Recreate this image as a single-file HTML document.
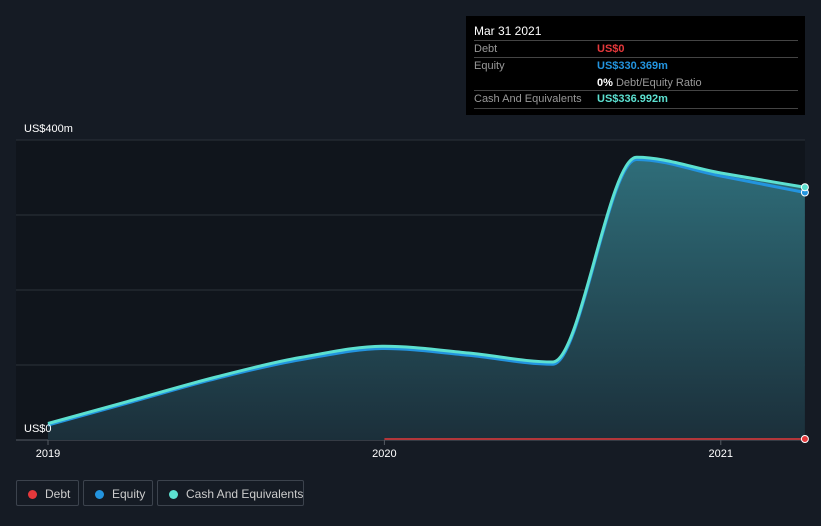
<!DOCTYPE html>
<html><head><meta charset="utf-8"><style>
body{margin:0;background:#151b24;font-family:"Liberation Sans",sans-serif;}
#wrap{position:relative;width:821px;height:526px;overflow:hidden;}
.tt{position:absolute;left:466px;top:16px;width:339px;height:99px;background:#000;color:#ccc;font-size:11px;}
.row{position:absolute;left:8px;width:324px;border-top:1px solid #444;height:17px;line-height:17px;}
.leg{position:absolute;top:480px;height:26px;border:1px solid #3c434d;border-radius:2px;color:#ccc;font-size:12px;line-height:26px;box-sizing:border-box;white-space:nowrap;}
.dot{display:inline-block;width:9px;height:9px;border-radius:50%;margin:0 8px 0 11px;vertical-align:-1px;}
</style></head><body>
<div id="wrap">
<svg id="svg" width="821" height="526" style="position:absolute;left:0;top:0">
<defs><linearGradient id="g" x1="0" y1="0" x2="0" y2="1"><stop offset="0" stop-color="#2f6e7a"/><stop offset="1" stop-color="#1b2f3a"/></linearGradient></defs>
<rect x="16" y="140" width="789" height="300" fill="#10151c"/>
<g id="grid"></g><g id="marks"></g><g id="axes"></g>
</svg>
<div class="tt">
<div style="position:absolute;left:8px;top:8px;color:#fff;font-size:12px">Mar 31 2021</div>
<div class="row" style="top:24px"><span style="color:#999">Debt</span><span style="position:absolute;left:123px;color:#e5383b;font-weight:bold">US$0</span></div>
<div class="row" style="top:41px;height:33px"><span style="color:#999">Equity</span><span style="position:absolute;left:123px;color:#2394df;font-weight:bold">US$330.369m</span><span style="position:absolute;left:123px;top:17px;color:#999"><b style="color:#fff">0%</b> Debt/Equity Ratio</span></div>
<div class="row" style="top:74px;border-bottom:1px solid #444"><span style="color:#999">Cash And Equivalents</span><span style="position:absolute;left:123px;color:#5ce0d0;font-weight:bold">US$336.992m</span></div>
</div>
<div class="leg" style="left:16px;width:63px"><span class="dot" style="background:#e5383b"></span>Debt</div>
<div class="leg" style="left:83px;width:70px"><span class="dot" style="background:#2394df"></span>Equity</div>
<div class="leg" style="left:157px;width:147px"><span class="dot" style="background:#5ce0d0"></span>Cash And Equivalents</div>
</div>
<script>
const dates=[2019,2019.25,2019.5,2019.75,2020,2020.25,2020.5,2020.75,2021,2021.25];
const cash=[22,53,84,110,125,116,104,377,356,337];
const equity=[20,51,82,107,122,113,101,374,352,330];
const debtDates=[2020,2021.25];
const debt=[0,0];
const yTicks=[0,100,200,300,400];
const xTicks=[2019,2020,2021];
const X=t=>48+(t-2019)*336.4;
const Y=v=>440-v*0.75;
const NS="http://www.w3.org/2000/svg";
function mk(tag,attrs,parent){const e=document.createElementNS(NS,tag);for(const k in attrs)e.setAttribute(k,attrs[k]);parent.appendChild(e);return e;}
function path(ds,vs){const p=ds.map((d,i)=>[X(d),Y(vs[i])]);const n=p.length;
const s=[];for(let i=0;i<n-1;i++)s.push((p[i+1][1]-p[i][1])/(p[i+1][0]-p[i][0]));
const m=[s[0]];for(let i=1;i<n-1;i++){m.push(s[i-1]*s[i]<=0?0:2/(1/s[i-1]+1/s[i]));}m.push(s[n-2]);
let d=`M${p[0][0]},${p[0][1]}`;
for(let i=0;i<n-1;i++){const h=(p[i+1][0]-p[i][0])/3;
d+=` C${p[i][0]+h},${p[i][1]+m[i]*h} ${p[i+1][0]-h},${p[i+1][1]-m[i+1]*h} ${p[i+1][0]},${p[i+1][1]}`;}return d;}
const grid=document.getElementById('grid'),marks=document.getElementById('marks'),axes=document.getElementById('axes');
yTicks.forEach(v=>{const l=mk('line',{x1:16,x2:805,y1:Y(v),y2:Y(v),stroke:v==0?'#555b63':'#2c323a','stroke-width':1},grid);

});
const l0=mk('text',{x:24,y:Y(400)-8,fill:'#fff','font-size':11},axes);l0.textContent='US$'+yTicks[4]+'m';


const l1=mk('text',{x:24,y:Y(0)-8,fill:'#fff','font-size':11},axes);l1.textContent='US$0';


xTicks.forEach(t=>{const tk=mk('line',{x1:X(t),x2:X(t),y1:440,y2:445,stroke:'#555b63'},axes);


const tx=mk('text',{x:X(t),y:457,fill:'#fff','font-size':11,'text-anchor':'middle'},axes);tx.textContent=t;

});
const cp=path(dates,cash);
const area=mk('path',{d:cp+` L${X(dates[dates.length-1])},440 L${X(dates[0])},440 Z`,fill:'url(#g)'},marks);


const eq=mk('path',{d:path(dates,equity),fill:'none',stroke:'#2394df','stroke-width':3},marks);


const cl=mk('path',{d:cp,fill:'none',stroke:'#5ce0d0','stroke-width':3},marks);


const dl=mk('line',{x1:X(debtDates[0]),x2:X(debtDates[1]),y1:Y(debt[0])-1,y2:Y(debt[1])-1,stroke:'#e5383b','stroke-width':1.5},marks);


const n=dates.length-1;
const de=mk('circle',{cx:X(debtDates[1]),cy:Y(debt[1])-1,r:3.5,fill:'#e5383b',stroke:'#fff','stroke-width':1},marks);


const ee=mk('circle',{cx:X(dates[n]),cy:Y(equity[n]),r:3.5,fill:'#2394df',stroke:'#fff','stroke-width':1},marks);


const ce=mk('circle',{cx:X(dates[n]),cy:Y(cash[n]),r:3.5,fill:'#5ce0d0',stroke:'#fff','stroke-width':1},marks);


</script>
</body></html>
